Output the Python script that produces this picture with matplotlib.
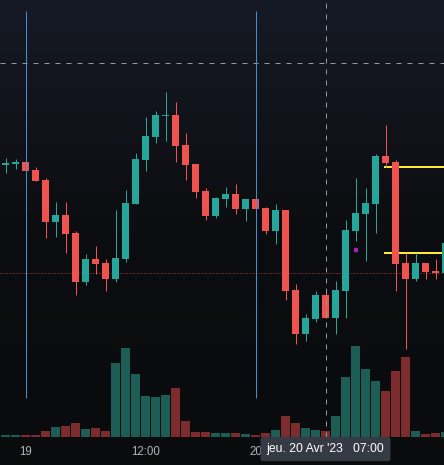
import numpy as np
import matplotlib.pyplot as plt
from matplotlib.colors import LinearSegmentedColormap

# hourly candles, 19-20 Apr 2023
opens = [29175, 29180, 29190, 29150, 29100, 28890, 28925, 28835, 28590, 28705,
         28685, 28605, 28705, 28980, 29200, 29315, 29420, 29425, 29275, 29180,
         29045, 28920, 29005, 29030, 28955, 29005, 28960, 28845, 28950, 28550,
         28330, 28405, 28525, 28410, 28545, 28845, 28930, 28980, 29220, 29190,
         28685, 28605, 28685, 28645, 28635]
highs = [29210, 29205, 29190, 29165, 29110, 28990, 28990, 28845, 28730, 28770,
         28705, 28950, 29050, 29235, 29415, 29445, 29540, 29490, 29335, 29180,
         29060, 29015, 29065, 29080, 29005, 29005, 28965, 28980, 28950, 28580,
         28430, 28545, 28560, 28595, 28900, 29110, 29060, 29230, 29375, 29200,
         28735, 28735, 28685, 28705, 28785]
lows = [29135, 29155, 29145, 29095, 28810, 28815, 28735, 28525, 28575, 28630,
        28545, 28590, 28690, 28980, 29145, 29285, 29295, 29190, 29100, 29010,
        28900, 28910, 28965, 28930, 28895, 28945, 28830, 28780, 28500, 28280,
        28295, 28390, 28410, 28330, 28410, 28795, 28695, 28835, 29165, 28545,
        28255, 28595, 28605, 28605, 28635]
closes = [29185, 29190, 29145, 29095, 28890, 28925, 28830, 28590, 28705, 28680,
          28605, 28710, 28985, 29205, 29320, 29425, 29425, 29270, 29175, 29040,
          28920, 29010, 29030, 28955, 29005, 28955, 28845, 28950, 28545, 28330,
          28410, 28525, 28410, 28550, 28850, 28935, 28985, 29220, 29185, 28680,
          28605, 28685, 28640, 28635, 28785]
volumes = [40, 40, 40, 40, 120, 200, 220, 280, 160, 180,
           120, 1480, 1780, 1260, 820, 800, 840, 980, 320, 100,
           100, 80, 80, 80, 60, 40, 80, 140, 420, 280,
           180, 140, 120, 420, 1200, 1820, 1360, 1120, 920, 1320,
           1600, 120, 60, 80, 100]

time_ticks = [2, 14, 25]
time_labels = ["19", "12:00", "20"]

session_breaks = [2, 25]
break_top, break_bottom = 29945, 28010
levels = [29165, 28735]
level_start = 37.85
last_price = 28635
marker_idx, marker_price = 34.9, 28757
cross_idx, cross_price = 32, 29685
cross_label = "jeu. 20 Avr '23   07:00"

UP, DOWN = "#26a69a", "#ef5350"
UP_VOL, DOWN_VOL = "#1c5d56", "#7c2c2c"
PX = 0.72  # one pixel in points at dpi 100

plt.rcParams["lines.scale_dashes"] = False
plt.rcParams["font.family"] = ["Liberation Sans", "DejaVu Sans"]

opens = np.array(opens)
closes = np.array(closes)
x = np.arange(len(opens))
up = closes >= opens
colors = np.where(up, UP, DOWN)
vol_colors = np.where(up, UP_VOL, DOWN_VOL)

fig = plt.figure(figsize=(4.44, 4.65), dpi=100)

# background gradient
bg = fig.add_axes([0, 0, 1, 1], zorder=-1)
cmap = LinearSegmentedColormap.from_list("bg", ["#161a25", "#0c0d10", "#0a0b0d"])
bg.imshow(np.linspace(0, 1, 256)[:, None], aspect="auto", cmap=cmap,
          extent=[0, 1, 0, 1])
bg.axis("off")

rect = [0, 28 / 465, 1, 437 / 465]
axv = fig.add_axes(rect, facecolor="none")
ax = fig.add_axes(rect, facecolor="none")

# volume
axv.bar(x, volumes, width=0.9, color=vol_colors, linewidth=0)
axv.set_ylim(0, 8740)

# horizontal drawings and price line
ax.hlines(levels, level_start, len(opens) + 1, colors="#ffeb3b",
          linewidth=2 * PX, zorder=1)
ax.axhline(last_price, color=DOWN, linewidth=PX, linestyle=(0, (PX, 2 * PX)),
           alpha=0.75, zorder=1)

# candles
ax.vlines(x, lows, highs, colors=colors, linewidth=PX, zorder=2)
body_low = np.minimum(opens, closes)
body_h = np.maximum(np.abs(closes - opens), 5)
ax.bar(x, body_h, bottom=body_low, width=0.7, color=colors, linewidth=0,
       zorder=3)

ax.plot([marker_idx], [marker_price], marker="s", markersize=3 * PX,
        color="#9c27b0", linestyle="none", zorder=4)

# crosshair
dash = (0, (5 * PX, 6 * PX))
ax.axhline(cross_price, color="#9598a1", linewidth=PX, linestyle=dash, zorder=5)
ax.axvline(cross_idx, color="#9598a1", linewidth=PX, linestyle=dash, zorder=5)

# session breaks
ax.vlines(session_breaks, break_bottom, break_top, colors="#3d8fd6",
          linewidth=PX, zorder=6)

for a in (ax, axv):
    a.set_xlim(-0.55, 43.85)
    for s in a.spines.values():
        s.set_visible(False)
    a.set_yticks([])
axv.set_xticks([])
ax.set_ylim(27815, 30000)
ax.set_xticks(time_ticks, time_labels)
ax.tick_params(axis="x", length=0, pad=6.5, labelcolor="#b2b5be", labelsize=8.3)

ax.annotate(cross_label, xy=(cross_idx, 0), xycoords=("data", "axes fraction"),
            xytext=(0, -12 * PX), textcoords="offset points", ha="center",
            va="center", color="white", fontsize=8.8, zorder=10,
            bbox=dict(boxstyle="round,pad=0.5,rounding_size=0.2",
                      facecolor="#363a45", edgecolor="none"))

fig.savefig("out.png", dpi=100)
